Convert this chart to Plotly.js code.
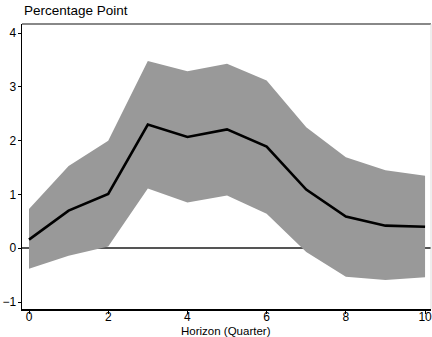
<!DOCTYPE html>
<html><head><meta charset="utf-8">
<script src="https://cdn.plot.ly/plotly-3.0.1.min.js"></script>
<style>html,body{margin:0;padding:0;background:#fff}#c{width:432px;height:337px}</style>
</head><body><div id="c"></div>
<script>
const horizon = [0,1,2,3,4,5,6,7,8,9,10];
const response = [0.16,0.70,1.01,2.30,2.07,2.21,1.89,1.09,0.59,0.42,0.40];
const upperBand = [0.73,1.53,2.00,3.48,3.29,3.43,3.12,2.25,1.69,1.45,1.35];
const lowerBand = [-0.38,-0.14,0.03,1.11,0.85,0.98,0.64,-0.07,-0.53,-0.59,-0.54];
const xTicks = [0,2,4,6,8,10];
const yTicks = [-1,0,1,2,3,4];
const yTickText = ['\u22121','0','1','2','3','4'];

const font = {family:'Liberation Sans, Arial, sans-serif', color:'#000'};
const traces = [
  {x:horizon, y:upperBand, type:'scatter', mode:'lines', line:{width:0,color:'#999999'}, hoverinfo:'skip', showlegend:false},
  {x:horizon, y:lowerBand, type:'scatter', mode:'lines', line:{width:0,color:'#999999'}, fill:'tonexty', fillcolor:'#999999', hoverinfo:'skip', showlegend:false},
  {x:horizon, y:response, type:'scatter', mode:'lines', line:{width:2.6,color:'#000'}, showlegend:false}
];
const layout = {
  width:432, height:337,
  margin:{l:22,r:1,t:24,b:28},
  paper_bgcolor:'#fff', plot_bgcolor:'#fff',
  font:Object.assign({size:12}, font),
  xaxis:{range:[-0.177,10.15], tickvals:xTicks, ticks:'outside', ticklen:3, tickcolor:'#000',
    ticklabeloverflow:'allow', ticklabelstandoff:-7,
    showline:true, linecolor:'#000', linewidth:1.5, showgrid:false, zeroline:false, tickfont:{size:12}},
  yaxis:{range:[-1.13,4.17], tickvals:yTicks, ticktext:yTickText, ticks:'outside', ticklen:3, tickcolor:'#000',
    ticklabeloverflow:'allow', ticklabelstandoff:-1,
    showline:true, linecolor:'#000', linewidth:1.5, showgrid:false,
    zeroline:true, zerolinecolor:'#555', zerolinewidth:1.5, tickfont:{size:12}},
  annotations:[
    {text:'Percentage Point', xref:'paper', yref:'paper', x:-0.0005, y:1.0, xanchor:'left', yanchor:'bottom', yshift:4, showarrow:false, font:Object.assign({size:13.5}, font)},
    {text:'Horizon (Quarter)', xref:'paper', yref:'paper', x:0.498, y:0, xanchor:'center', yanchor:'top', yshift:-14, showarrow:false, font:Object.assign({size:11.5}, font)}
  ],
  shapes:[
    {type:'line', xref:'paper', yref:'paper', x0:0, x1:1, y0:1, y1:1, line:{color:'#888', width:2}},
    {type:'line', xref:'paper', yref:'paper', x0:1, x1:1, y0:0, y1:1, line:{color:'#ddd', width:1}}
  ]
};
Plotly.newPlot('c', traces, layout, {displayModeBar:false, staticPlot:true});
</script></body></html>
